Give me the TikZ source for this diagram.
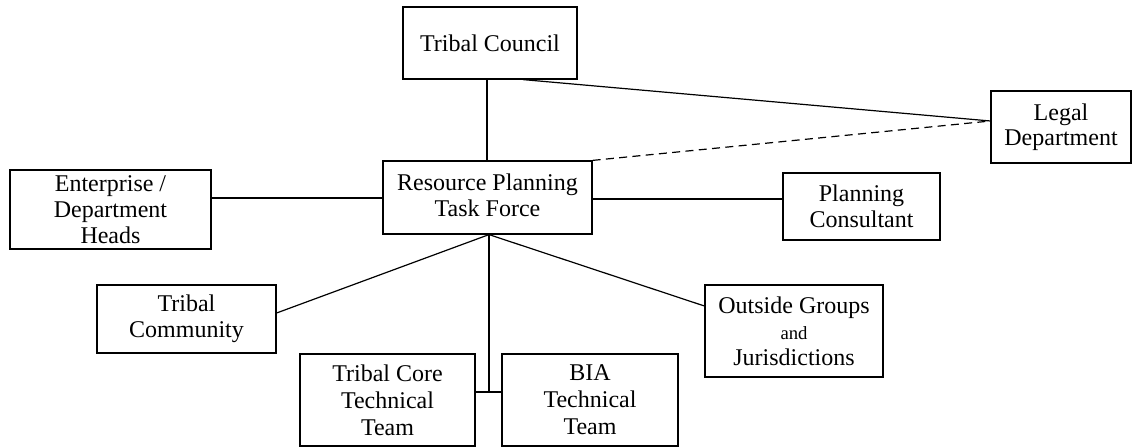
\documentclass[tikz,border=0pt]{standalone}
\usepackage{fontspec}
\setmainfont{Liberation Serif}
\begin{document}
\begin{tikzpicture}[x=0.75pt,y=-0.75pt,
  box/.style={draw,line width=0.9pt,inner sep=0pt,align=center,
    font=\fontsize{18}{19.5}\selectfont},
  link/.style={line width=0.9pt},
  dlink/.style={line width=0.9pt,dash pattern=on 6pt off 4pt}]
\useasboundingbox (0,0) rectangle (1137,448);
\node[box,minimum width=130.5pt,minimum height=54pt] (tc) at (490,43) {Tribal Council};
\node[box,minimum width=105pt,minimum height=54pt,font=\fontsize{18}{18.5}\selectfont] (legal) at (1061,127) {Legal\\Department};
\node[box,minimum width=150.75pt,minimum height=59.25pt] (ent) at (110.5,209.5) {Enterprise /\\Department\\Heads};
\node[box,minimum width=156.75pt,minimum height=54.75pt] (rptf) at (487.5,197.5) {\raisebox{4pt}{\shortstack{Resource Planning\\Task Force}}};
\node[box,minimum width=117.75pt,minimum height=50.25pt] (pc) at (861.5,206.5) {Planning\\Consultant};
\node[box,minimum width=134.25pt,minimum height=51pt] (comm) at (186.5,319) {Tribal\\Community};
\node[box,minimum width=133.5pt,minimum height=69pt] (out) at (794,331) {Outside Groups\\{\fontsize{14}{15}\selectfont and}\\Jurisdictions};
\node[box,minimum width=131.25pt,minimum height=69pt,font=\fontsize{18}{20.25}\selectfont] (core) at (387.5,400) {Tribal Core\\Technical\\Team};
\node[box,minimum width=132pt,minimum height=69pt,font=\fontsize{18}{20.25}\selectfont] (bia) at (590,400) {BIA\\Technical\\Team};
\coordinate (tcb) at (tc.south -| 487,0);
\coordinate (tcl) at (tc.south -| 523,0);
\coordinate (legin) at (legal.west |- 0,121);
\coordinate (rb) at (rptf.south -| 489,0);
\coordinate (j) at (489,392);
\draw[link] (tcb) -- (tcb |- rptf.north);
\draw[link] (tcl) -- (legin);
\draw[dlink] (rptf.north east) -- (legin);
\draw[link] (ent.east |- 0,198) -- (rptf.west |- 0,198);
\draw[link] (rptf.east |- 0,199) -- (pc.west |- 0,199);
\draw[link] (rb) -- (comm.east |- 0,313);
\draw[link] (rb) -- (out.west |- 0,306);
\draw[link] (rb) -- (j);
\draw[link] (core.east |- j) -- (bia.west |- j);
\end{tikzpicture}
\end{document}
